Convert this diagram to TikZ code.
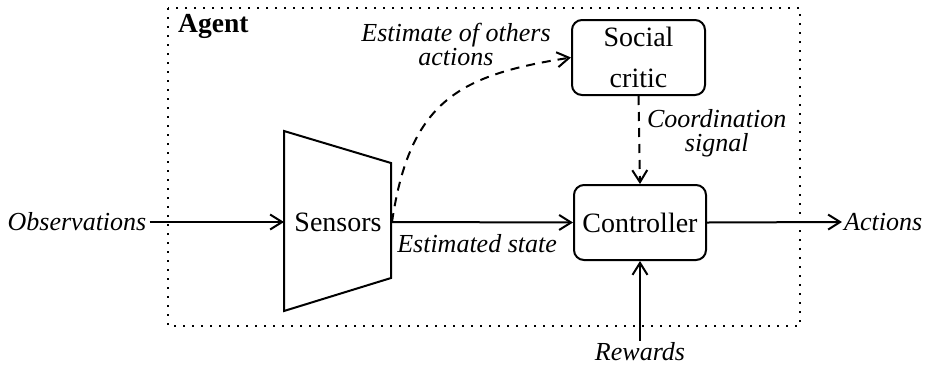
\documentclass[tikz,border=0pt]{standalone}
\usepackage{fontspec}
\setmainfont{Liberation Serif}
\usetikzlibrary{arrows.meta}
\begin{document}
\begin{tikzpicture}[x=1pt,y=-1pt,
  every node/.style={inner sep=2pt},
  mainfont/.style={font=\fontsize{28}{41}\selectfont},
  lbl/.style={font=\fontsize{26}{24}\selectfont\itshape, align=center},
  block/.style={draw, line width=2pt, rounded corners=10pt, mainfont, align=center},
  conn/.style={line width=2pt, -{Straight Barb[length=12pt,width=15pt,line width=2pt]}},
  dconn/.style={conn, dash pattern=on 9pt off 7pt}
]
\useasboundingbox (0,0) rectangle (926,368);
% agent frame
\draw[line width=2pt, dash pattern=on 2pt off 7pt] (168,8) rectangle (800,326);
\node[font=\fontsize{27.5}{30}\selectfont\bfseries, anchor=west] (agent) at (176,26) {Agent};
% blocks
\node[block, minimum width=133pt, minimum height=75pt] (critic) at (638.5,57.5) {Social\\critic};
\node[block, minimum width=132pt, minimum height=75pt] (ctrl) at (640,222.5) {Controller};
% sensors trapezoid
\coordinate (stl) at (284,131);
\coordinate (sbl) at (284,311);
\coordinate (str) at (391,163);
\coordinate (sbr) at (391,278);
\draw[line width=2pt, line join=miter] (stl) -- (str) -- (sbr) -- (sbl) -- cycle;
\node[mainfont] (sensors) at (338,222) {Sensors};
\coordinate (sin) at (284,222);
\coordinate (sout) at (392,222);
% outside labels
\node[lbl, inner sep=3pt] (obs) at (77,222) {Observations};
\node[lbl, anchor=west] (act) at (842,222) {Actions};
\node[lbl] (rew) at (640,352) {Rewards};
% connectors
\draw[conn] (obs.east) -- (sin);
\draw[conn] (sout) -- (ctrl.west) node[lbl, pos=0.47, below=9pt] (est) {Estimated state};
\draw[conn] (ctrl.east) -- (act.west);
\draw[conn] (rew.north) -- (ctrl.south);
\draw[dconn] (critic.south) -- (ctrl.north) node[lbl, pos=0.42, right=5pt] (coord) {Coordination\\signal};
\draw[dconn] (sout) .. controls (410,100) and (460,75) .. (critic.west);
\node[lbl] (eoa) at (456,44) {Estimate of others\\actions};
\end{tikzpicture}
\end{document}
